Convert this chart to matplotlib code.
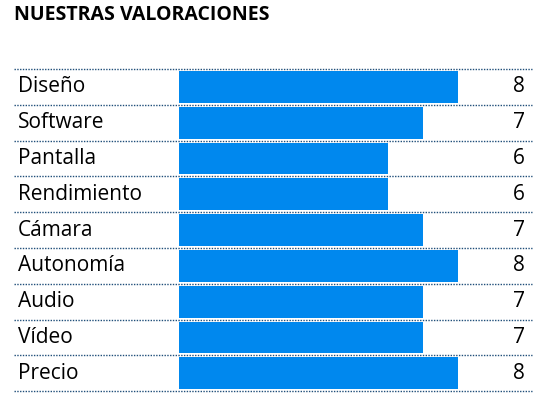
import matplotlib
matplotlib.use("Agg")
import matplotlib.pyplot as plt
from matplotlib.lines import Line2D

categories = ["Diseño", "Software", "Pantalla", "Rendimiento", "Cámara", "Autonomía", "Audio", "Vídeo", "Precio"]
values = [8, 7, 6, 6, 7, 8, 7, 7, 8]

W, H = 539, 401
fig = plt.figure(figsize=(W/100, H/100), dpi=100)
plt.rcParams['font.family'] = ['Open Sans', 'DejaVu Sans']

top, rowh = 69, 35.8
n = len(categories)
bottom = top + rowh*n
x0, unit = 179, 34.9
ax = fig.add_axes([x0/W, 1-bottom/H, (unit*10)/W, (bottom-top)/H])
ax.set_xlim(0, 10)
ax.set_ylim(n, 0)
ax.axis('off')
ax.barh([i+0.5 for i in range(n)], values, height=32/36, color='#0088EE')

fig.text(14/W, 1-15/H, "NUESTRAS VALORACIONES", fontsize=14, fontweight='bold', va='center', ha='left')
for i, (c, v) in enumerate(zip(categories, values)):
    yc = 1-(top + rowh*(i+0.5))/H
    fig.text(18/W, yc, c, fontsize=15, va='center', ha='left')
    fig.text(525/W, yc, str(v), fontsize=15, va='center', ha='right')
for i in range(n+1):
    y = 1-(top + rowh*i)/H
    fig.add_artist(Line2D([14/W, 532/W], [y, y], color='#1F4E79', lw=1, linestyle=(0, (1, 1))))

fig.savefig("out.png", dpi=100)
